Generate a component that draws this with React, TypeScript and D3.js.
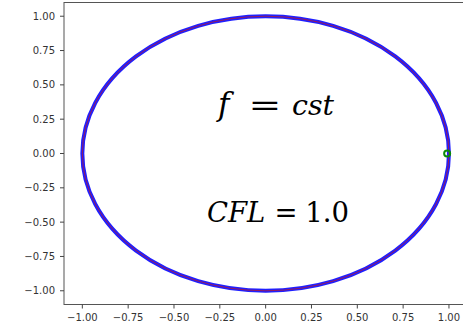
import React from "react";
import * as d3 from "d3";

// Orbit drawn as reference (red) and computed trajectory (blue)
const orbitCenter = [0, 0];
const orbitRadius = 1.0;
// Start point of the particle
const startPoint = [0.99, 0.0];
const startRadiusPx = 3;

const xTicks = [-1.0, -0.75, -0.5, -0.25, 0.0, 0.25, 0.5, 0.75, 1.0];
const yTicks = [-1.0, -0.75, -0.5, -0.25, 0.0, 0.25, 0.5, 0.75, 1.0];
const xDomain = [-1.1, 1.1];
const yDomain = [-1.1, 1.1];

const W = 463;
const H = 327;

export default function App() {
  const x = d3.scaleLinear().domain(xDomain).range([64, 467.3]);
  const y = d3.scaleLinear().domain(yDomain).range([304.5, 2.5]);
  const fmt = (v: number) => d3.format(".2f")(v).replace("-", "\u2212");

  const cx = x(orbitCenter[0]);
  const cy = y(orbitCenter[1]);
  const rx = x(orbitCenter[0] + orbitRadius) - cx;
  const ry = cy - y(orbitCenter[1] + orbitRadius);

  const [x0, x1] = x.range();
  const [y0, y1] = y.range();
  const tickColor = "#444";
  const font = "'DejaVu Sans', sans-serif";
  const mathFont = "'DejaVu Serif', serif";

  return (
    <svg
      width={W}
      height={H}
      style={{ position: "absolute", left: 0, top: 0, background: "#fff" }}
    >
      <rect x={0} y={0} width={W} height={H} fill="#fff" />
      {/* orbit */}
      <ellipse cx={cx} cy={cy} rx={rx} ry={ry} fill="none" stroke="#1f1fff" strokeWidth={4} />
      <ellipse cx={cx} cy={cy} rx={rx} ry={ry} fill="none" stroke="#c81818" strokeWidth={1} opacity={0.7} />
      {/* start point */}
      <circle
        cx={x(startPoint[0])}
        cy={y(startPoint[1])}
        r={startRadiusPx}
        fill="none"
        stroke="#0a8a0a"
        strokeWidth={2}
      />

      {/* spines */}
      <rect
        x={x0}
        y={y1}
        width={x1 - x0}
        height={y0 - y1}
        fill="none"
        stroke="#555"
        strokeWidth={1}
      />

      {/* x axis */}
      {xTicks.map((t) => (
        <g key={"x" + t}>
          <line x1={x(t)} x2={x(t)} y1={y0} y2={y0 + 4} stroke={tickColor} strokeWidth={1} />
          <text
            x={x(t)}
            y={y0 + 16}
            textAnchor="middle"
            fontFamily={font}
            fontSize={10}
            fill="#333"
          >
            {fmt(t)}
          </text>
        </g>
      ))}

      {/* y axis */}
      {yTicks.map((t) => (
        <g key={"y" + t}>
          <line x1={x0 - 4} x2={x0} y1={y(t)} y2={y(t)} stroke={tickColor} strokeWidth={1} />
          <text
            x={x0 - 9}
            y={y(t) + 3.6}
            textAnchor="end"
            fontFamily={font}
            fontSize={10}
            fill="#333"
          >
            {fmt(t)}
          </text>
        </g>
      ))}

      {/* annotations */}
      <g fontFamily={mathFont} fill="#000">
        <text x={218} y={115} fontSize={31} fontStyle="italic">f</text>
        <text
          x={0}
          y={0}
          fontSize={29}
          textAnchor="middle"
          transform="translate(265,115) scale(1.35,1)"
        >
          =
        </text>
        <text x={334} y={115} fontSize={28.5} fontStyle="italic" textAnchor="end">cst</text>

        <text x={207} y={222} fontSize={27.5} fontStyle="italic">CFL</text>
        <text x={286} y={222} fontSize={27.5} textAnchor="middle">=</text>
        <text x={349} y={222} fontSize={27.5} textAnchor="end">1.0</text>
      </g>
    </svg>
  );
}
